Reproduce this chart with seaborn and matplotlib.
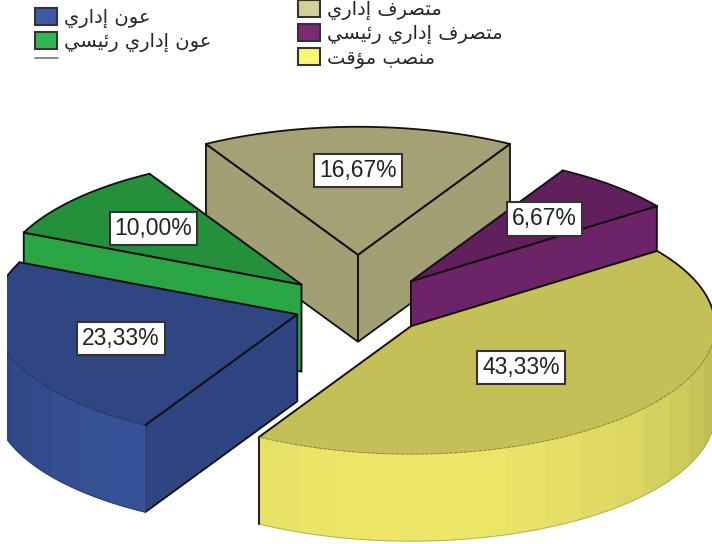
import numpy as np
import seaborn as sns
import matplotlib.pyplot as plt
from matplotlib.patches import Patch, Polygon

categories = ['عون إداري', 'عون إداري رئيسي', 'متصرف إداري', 'متصرف إداري رئيسي', 'منصب مؤقت']
percents = [23.33, 10.00, 16.67, 6.67, 43.33]

base_colors = ['#3D5AA8', '#2EB84D', '#D4CF96', '#7D2878', '#FBF66F']
explode = [0.21, 0.25, 0.40, 0.26, 0.235]
label_pos = [0.61, 0.655, 0.66, 0.655, 0.487]
draw_order = [2, 3, 1, 0, 4]

cx, cy = 358, 306
rx, ry = 304, 128
depth = 87
start_angle = -120

# arabic letters: isolated, final, initial, medial
forms = {
    'ع': 'ﻉﻊﻋﻌ', 'ن': 'ﻥﻦﻧﻨ', 'ي': 'ﻱﻲﻳﻴ', 'ئ': 'ﺉﺊﺋﺌ', 'س': 'ﺱﺲﺳﺴ', 'م': 'ﻡﻢﻣﻤ',
    'ت': 'ﺕﺖﺗﺘ', 'ص': 'ﺹﺺﺻﺼ', 'ف': 'ﻑﻒﻓﻔ', 'ب': 'ﺏﺐﺑﺒ', 'ق': 'ﻕﻖﻗﻘ',
    'و': 'ﻭﻮ', 'إ': 'ﺇﺈ', 'د': 'ﺩﺪ', 'ا': 'ﺍﺎ', 'ر': 'ﺭﺮ', 'ؤ': 'ﺅﺆ',
}


def shape_word(word):
    out = []
    for i, ch in enumerate(word):
        prev_joins = i > 0 and len(forms[word[i - 1]]) == 4
        next_joins = i < len(word) - 1 and len(forms[ch]) == 4
        f = forms[ch]
        if prev_joins and next_joins:
            out.append(f[3])
        elif prev_joins:
            out.append(f[1])
        elif next_joins:
            out.append(f[2])
        else:
            out.append(f[0])
    return ''.join(reversed(out))


def shape(text):
    return ' '.join(shape_word(w) for w in reversed(text.split(' ')))


def shade(col, k):
    return tuple(min(1, c * k) for c in col)


def point(a):
    return np.array([rx * np.cos(np.radians(a)), -ry * np.sin(np.radians(a))])


def arc(a0, a1, n):
    t = np.radians(np.linspace(a0, a1, n))
    return np.column_stack([rx * np.cos(t), -ry * np.sin(t)])


sns.set_theme(style='white')
plt.rcParams['font.family'] = ['Liberation Sans', 'DejaVu Sans']
palette = sns.color_palette(base_colors)

fig = plt.figure(figsize=(7.12, 5.44), dpi=100)
ax = fig.add_axes([7 / 712, 0, 705 / 712, 1])
ax.set_xlim(7, 712)
ax.set_ylim(544, 0)
ax.axis('off')

ends = start_angle - np.cumsum(np.array(percents) * 3.6)
starts = np.r_[start_angle, ends[:-1]]
# keep the angles of the slices that pass -300 in the range the walls expect
wrap = starts <= -300
starts[wrap] += 360
ends[wrap] += 360

for z, i in enumerate(draw_order):
    a0, a1 = starts[i], ends[i]
    mid = (a0 + a1) / 2
    apex = np.array([cx, cy]) + explode[i] * point(mid)
    col = palette[i]
    top_col = shade(col, 0.78)
    down = np.array([0, depth])
    base = z * 10

    # radial walls, only those facing the viewer
    for a in (a0, a1):
        d = point(a)
        m = point(mid)
        n = m - d * (m @ d) / (d @ d)
        if n[1] < 0:
            edge = apex + d
            k = 0.61 + 0.32 * abs(np.cos(np.radians(a)))
            ax.add_patch(Polygon([apex, edge, edge + down, apex + down], closed=True,
                                 fc=shade(col, k), ec='#111111', lw=1.3, zorder=base + 1))

    # curved outer wall in bands
    lo, hi = max(a1, -180), min(a0, 0)
    if lo < hi:
        edges = np.arange(hi, lo - 8, -8.0)
        edges[-1] = lo
        for b0, b1 in zip(edges[:-1], edges[1:]):
            p = apex + arc(b0, b1, 8)
            k = 0.72 + 0.22 * np.cos(np.radians((b0 + b1) / 2 + 90))
            ax.add_patch(Polygon(np.vstack([p, (p + down)[::-1]]), closed=True,
                                 fc=shade(col, k), ec=shade(col, k), lw=0.8, zorder=base + 2))
        ax.plot(*(apex + arc(hi, lo, 80) + down).T, color=shade(col, 0.7), lw=0.6, zorder=base + 2)
        if lo > -180:
            corner = apex + point(lo)
            ax.plot(*np.vstack([corner, corner + down]).T, color='#222222', lw=1.5, zorder=base + 3)

    # top face
    a_pts = arc(a0, a1, 120)
    outline = np.vstack([apex, apex + a_pts])
    ax.add_patch(Polygon(outline, closed=True, fc=top_col, ec='none', zorder=base + 3))
    ax.plot(*np.vstack([apex + point(a0), apex, apex + point(a1)]).T, color='#111111',
            lw=1.4, zorder=base + 4, solid_joinstyle='miter')
    front = np.sin(np.radians(np.linspace(a0, a1, 120))) < 0
    ax.plot(*(apex + a_pts[front]).T, color=shade(col, 0.55), lw=0.7, ls=(0, (4, 1)), zorder=base + 4)
    back = a_pts.copy()
    back[front] = np.nan
    ax.plot(*(apex + back).T, color='#111111', lw=1.3, zorder=base + 4)

for i, v in enumerate(percents):
    mid = (starts[i] + ends[i]) / 2
    apex = np.array([cx, cy]) + explode[i] * point(mid)
    pos = apex + label_pos[i] * point(mid)
    ax.text(pos[0], pos[1], f'{v:.2f}%'.replace('.', ','), fontsize=16.5, color='#222222',
            ha='center', va='center', zorder=100,
            bbox=dict(boxstyle='square,pad=0.22', fc='white', ec='#333333', lw=1.5))

handles = [Patch(fc=c, ec='#333333', lw=1.5) for c in palette]
labels = [shape(c) for c in categories]
opts = dict(frameon=False, handlelength=1.13, handleheight=0.93, handletextpad=0.34,
            labelspacing=0.2, borderpad=0, borderaxespad=0, loc='upper left',
            prop={'family': 'DejaVu Sans', 'size': 14})
left = ax.legend(handles[:2], labels[:2], bbox_to_anchor=(35, 8), bbox_transform=ax.transData, **opts)
ax.add_artist(left)
right = ax.legend(handles[2:], labels[2:], bbox_to_anchor=(298, 0), bbox_transform=ax.transData, **opts)
ax.plot([35, 58], [58, 58], color='#777777', lw=1.2, zorder=200)

fig.savefig('out.png', dpi=100)
